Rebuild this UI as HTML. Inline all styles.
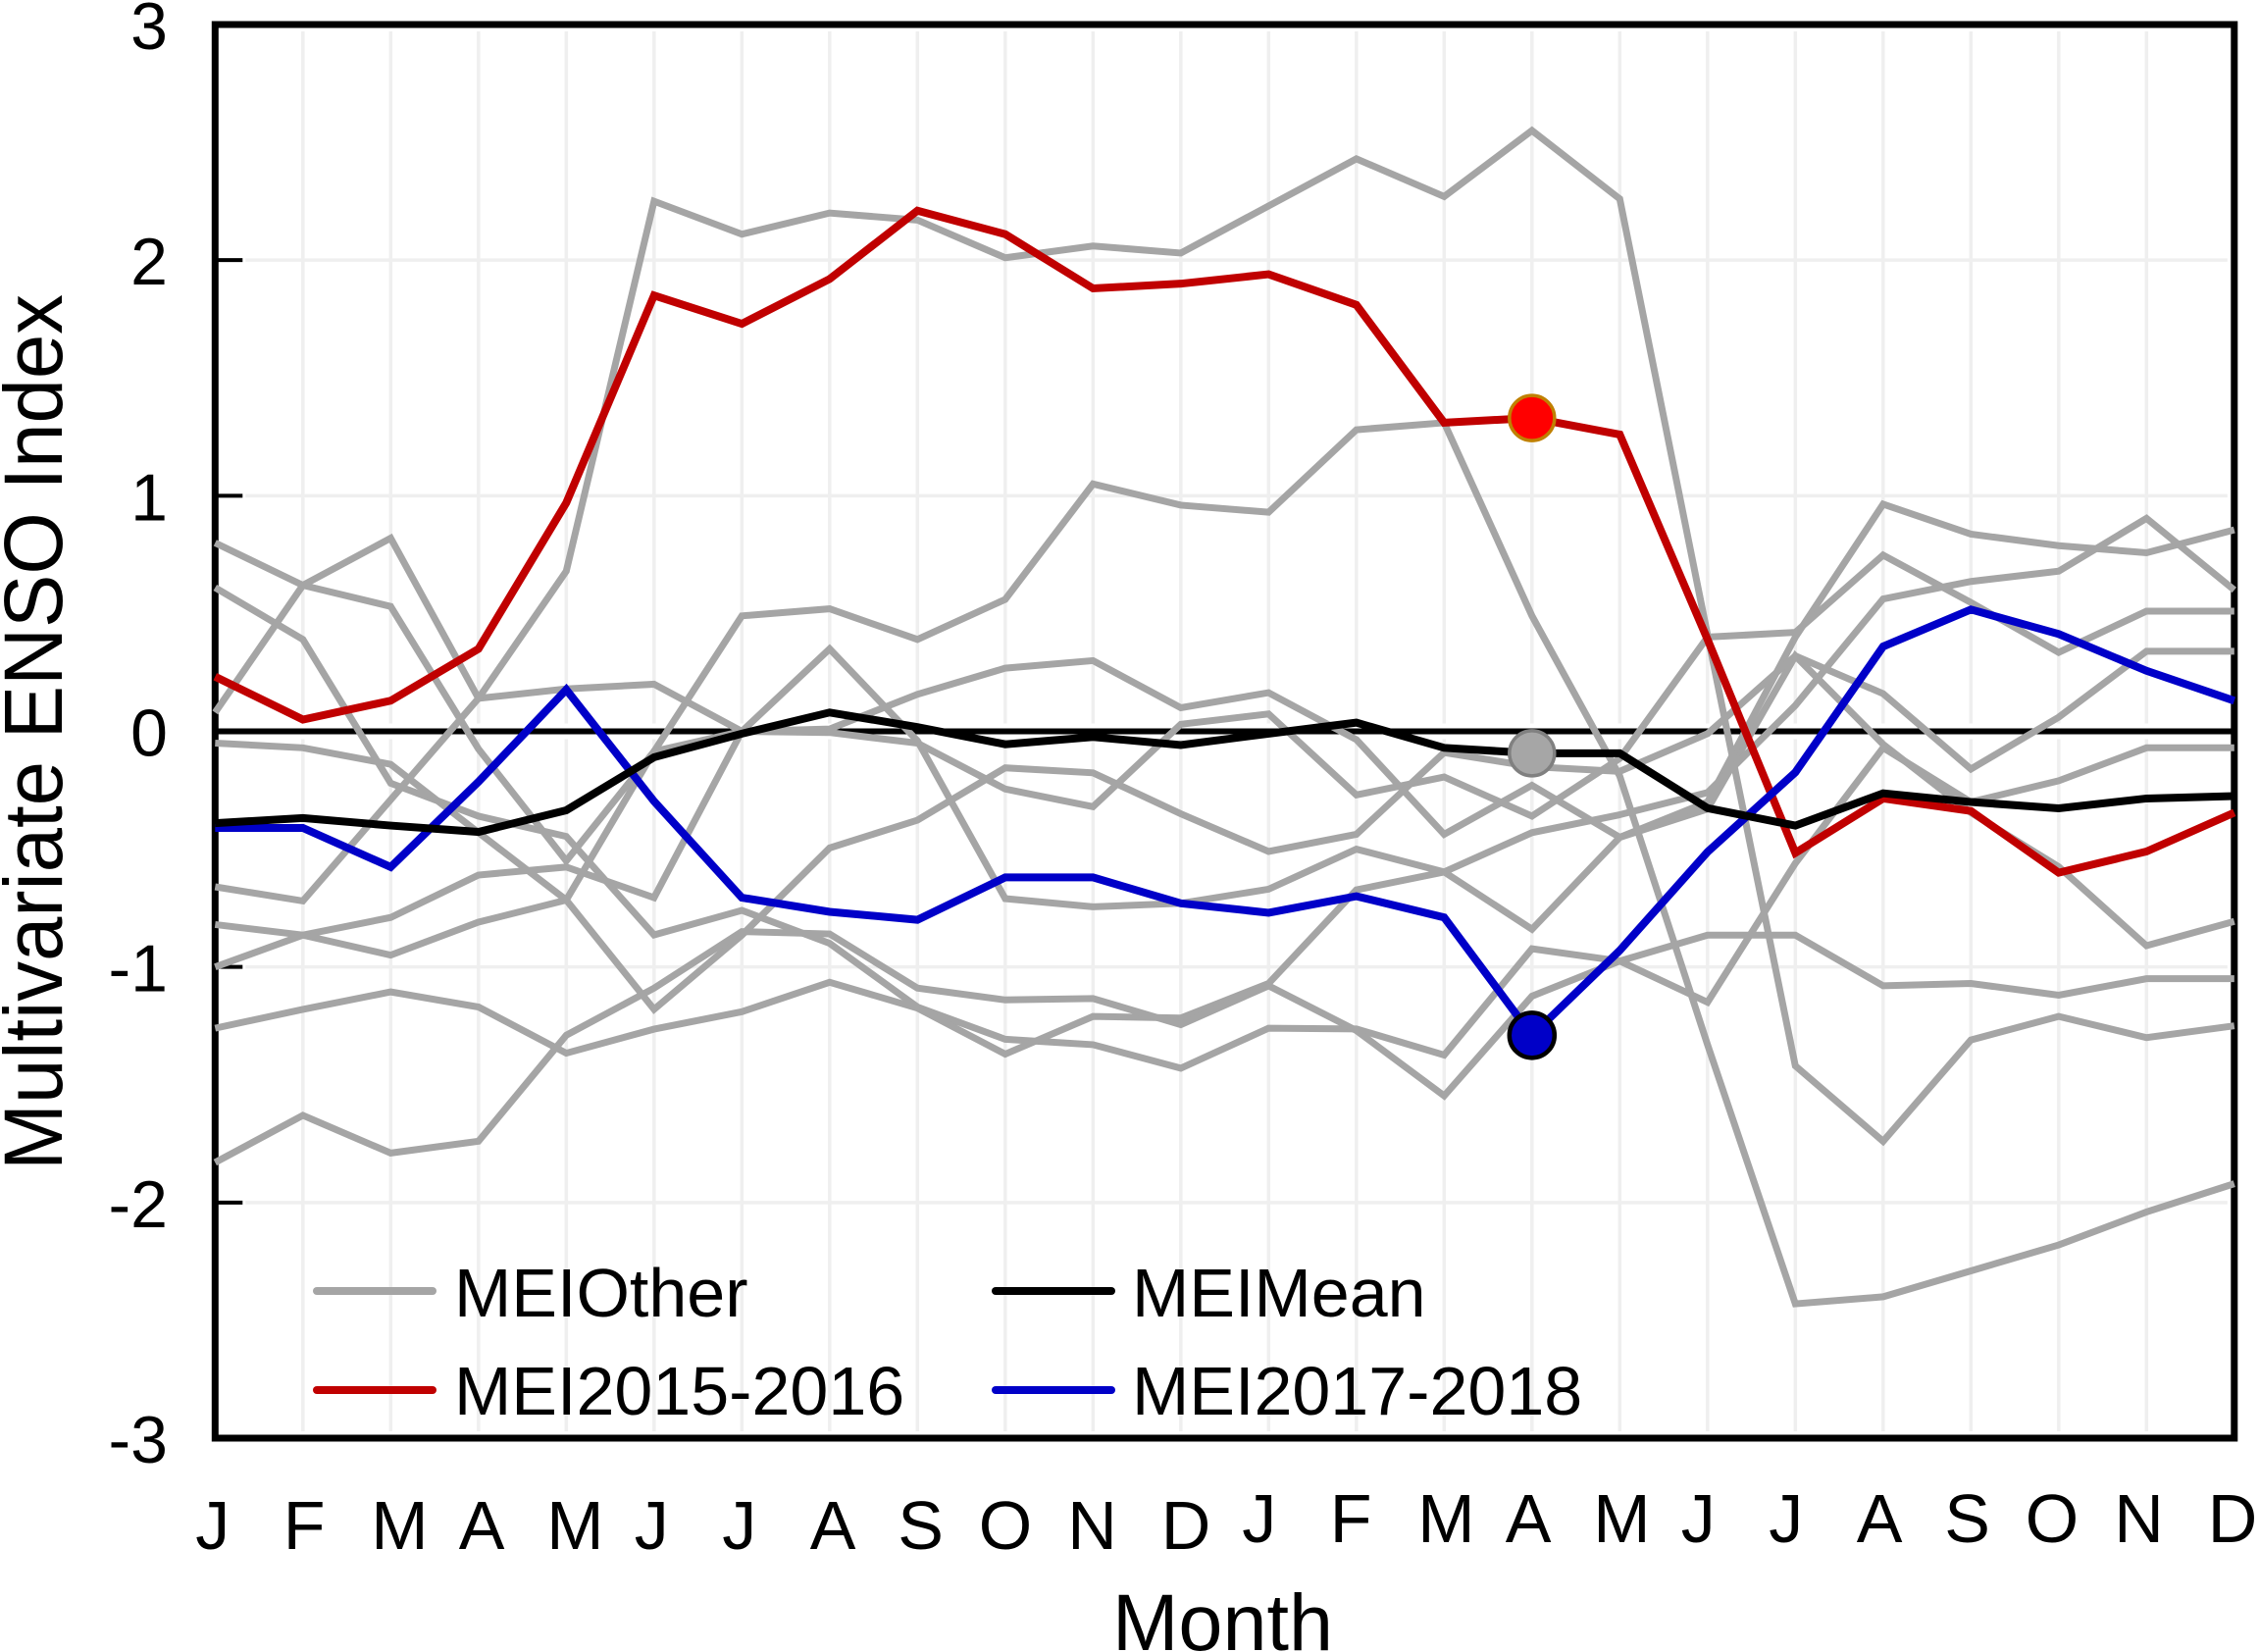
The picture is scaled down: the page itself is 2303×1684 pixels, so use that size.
<!DOCTYPE html>
<html lang="en">
<head>
<meta charset="utf-8">
<title>Multivariate ENSO Index by Month</title>
<style>
html,body{margin:0;padding:0;background:#fff;width:2303px;height:1684px;overflow:hidden}
svg{display:block}
text{font-family:"Liberation Sans",Arial,sans-serif;fill:#000}
</style>
</head>
<body>
<svg id="chart" xmlns="http://www.w3.org/2000/svg" width="2303" height="1684" viewBox="0 0 2303 1684"></svg>
<script>
var months = ['J','F','M','A','M','J','J','A','S','O','N','D','J','F','M','A','M','J','J','A','S','O','N','D'];
var yTicks = [3,2,1,0,-1,-2,-3];
var other1 = [0.80,0.62,0.53,-0.075,-0.55,-0.085,0.49,0.52,0.39,0.56,1.05,0.96,0.93,1.28,1.31,0.49,-0.19,-1.33,-2.43,-2.40,-2.29,-2.18,-2.04,-1.92];
var other2 = [0.61,0.39,-0.22,-0.36,-0.446,-0.864,-0.76,-0.9,-1.17,-1.307,-1.33,-1.43,-1.26,-1.263,-1.374,-0.923,-0.975,-1.15,-0.56,-0.07,-0.30,-0.21,-0.07,-0.07];
var other3 = [0.08,0.62,0.82,0.14,0.18,0.2,0.0,0.01,0.157,0.268,0.30,0.10,0.164,-0.035,-0.437,-0.229,-0.45,-0.33,0.32,-0.055,-0.345,-0.575,-0.91,-0.807];
var other4 = [-0.05,-0.07,-0.14,-0.43,-0.716,-0.085,0.0,0.35,-0.04,-0.71,-0.745,-0.73,-0.67,-0.50,-0.597,-0.84,-0.45,-0.30,0.40,0.964,0.837,0.788,0.758,0.855];
var other5 = [-0.66,-0.72,-0.29,0.14,0.68,2.25,2.11,2.2,2.17,2.01,2.06,2.03,2.23,2.43,2.27,2.55,2.26,0.41,-1.42,-1.74,-1.31,-1.21,-1.30,-1.25];
var other6 = [-0.82,-0.865,-0.79,-0.61,-0.576,-0.706,0.0,-0.005,-0.05,-0.245,-0.32,0.03,0.074,-0.27,-0.194,-0.36,-0.115,0.40,0.42,0.748,0.547,0.335,0.51,0.51];
var other7 = [-1.0,-0.865,-0.95,-0.81,-0.716,-1.18,-0.865,-0.495,-0.377,-0.155,-0.176,-0.35,-0.51,-0.437,-0.09,-0.15,-0.17,-0.01,0.32,0.16,-0.16,0.06,0.34,0.34];
var other8 = [-1.26,-1.18,-1.106,-1.17,-1.366,-1.264,-1.19,-1.065,-1.175,-1.37,-1.21,-1.217,-1.07,-0.673,-0.597,-0.43,-0.354,-0.26,0.11,0.562,0.636,0.68,0.904,0.60];
var other9 = [-1.83,-1.63,-1.79,-1.74,-1.29,-1.09,-0.85,-0.86,-1.09,-1.14,-1.134,-1.245,-1.08,-1.27,-1.547,-1.124,-0.975,-0.865,-0.865,-1.08,-1.07,-1.12,-1.05,-1.05];
var mei20152016 = [0.232,0.05,0.13,0.35,0.97,1.85,1.73,1.92,2.21,2.11,1.88,1.90,1.94,1.81,1.31,1.33,1.26,0.39,-0.516,-0.285,-0.338,-0.60,-0.51,-0.345];
var mei20172018 = [-0.41,-0.41,-0.576,-0.214,0.177,-0.297,-0.706,-0.766,-0.80,-0.62,-0.62,-0.73,-0.77,-0.70,-0.79,-1.29,-0.93,-0.512,-0.174,0.36,0.517,0.413,0.257,0.13];
var meiMean = [-0.39,-0.368,-0.40,-0.427,-0.335,-0.11,-0.01,0.08,0.018,-0.055,-0.024,-0.058,-0.01,0.037,-0.07,-0.093,-0.093,-0.326,-0.40,-0.263,-0.30,-0.327,-0.285,-0.275];
var highlightMonth = 15;

var NS = 'http://www.w3.org/2000/svg';
var svg = document.getElementById('chart');
var plot = {left:219.3, right:2277.8, top:25, bottom:1466};
function xScale(i){ return plot.left + i * (plot.right - plot.left) / (months.length - 1); }
function yScale(v){ return plot.top + (3 - v) * (plot.bottom - plot.top) / 6; }
function make(tag, attrs, text){
  var el = document.createElementNS(NS, tag);
  for (var k in attrs) el.setAttribute(k, attrs[k]);
  if (text !== undefined) el.textContent = text;
  svg.appendChild(el);
  return el;
}
function pathFor(values){
  return values.map(function(v,i){ return (i ? 'L' : 'M') + xScale(i).toFixed(2) + ' ' + yScale(v).toFixed(2); }).join(' ');
}

/* grid */
months.forEach(function(m,i){
  if (i === 0 || i === months.length - 1) return;
  var g = make('line',{x1:xScale(i),x2:xScale(i),y1:plot.top+7,y2:plot.bottom-7,stroke:'#efefef','stroke-width':3.5});
  
  
});
yTicks.forEach(function(v){
  if (v === 3 || v === -3 || v === 0) return;
  var g = make('line',{x1:plot.left+31,x2:plot.right-7,y1:yScale(v),y2:yScale(v),stroke:'#efefef','stroke-width':3.5});
  
  
  var t = make('line',{x1:plot.left,x2:plot.left+28,y1:yScale(v),y2:yScale(v),stroke:'#000','stroke-width':4});
  
  
});

/* zero reference line */
var halo = make('line',{x1:plot.left,x2:plot.right,y1:yScale(0),y2:yScale(0),stroke:'#fff','stroke-width':16});


var zero = make('line',{x1:plot.left,x2:plot.right,y1:yScale(0),y2:yScale(0),stroke:'#000','stroke-width':6});



/* frame sits beneath the series */
var frame = make('rect',{x:plot.left,y:plot.top,width:plot.right-plot.left,height:plot.bottom-plot.top,fill:'none',stroke:'#000','stroke-width':7});



/* series */
[other1,other2,other3,other4,other5,other6,other7,other8,other9].forEach(function(s){
  var p = make('path',{d:pathFor(s),fill:'none',stroke:'#a5a5a5','stroke-width':7,'stroke-linejoin':'miter'});
  
  
});
var redLine = make('path',{d:pathFor(mei20152016),fill:'none',stroke:'#c00000','stroke-width':8,'stroke-linejoin':'miter'});


var blueLine = make('path',{d:pathFor(mei20172018),fill:'none',stroke:'#0000c8','stroke-width':8,'stroke-linejoin':'miter'});


var meanLine = make('path',{d:pathFor(meiMean),fill:'none',stroke:'#000','stroke-width':8,'stroke-linejoin':'miter'});



/* highlighted points */
var mx = xScale(highlightMonth);
var m1 = make('circle',{cx:mx,cy:yScale(mei20152016[highlightMonth]),r:23,fill:'#ff0000',stroke:'#c08000','stroke-width':3.5});


var m2 = make('circle',{cx:mx,cy:yScale(meiMean[highlightMonth]),r:23,fill:'#a6a6a6',stroke:'#808080','stroke-width':3.5});


var m3 = make('circle',{cx:mx,cy:yScale(mei20172018[highlightMonth]),r:23,fill:'#0000c8',stroke:'#000','stroke-width':4.5});



/* tick labels */
yTicks.forEach(function(v){
  var t = make('text',{x:171,y:yScale(v)+25,'text-anchor':'end','font-size':68}, String(v));
  
  
});
function labelNudge(letter){ return letter === 'O' ? -7 : (letter === 'N' ? -6 : 0); }
months.forEach(function(m,i){
  var first = i < 12;
  var t = make('text',{x:xScale(i)-(first?20:27)+labelNudge(m),y:first?1579:1572,'font-size':70}, m);
  
  
});

/* axis titles */
var yTitle = make('text',{transform:'translate(63 1193) rotate(-90)','font-size':84,textLength:893,lengthAdjust:'spacingAndGlyphs'}, 'Multivariate ENSO Index');


var xTitle = make('text',{x:1134,y:1682,'font-size':82,textLength:225,lengthAdjust:'spacingAndGlyphs'}, 'Month');



/* legend */
var s1 = make('line',{x1:323,x2:441,y1:1316,y2:1316,stroke:'#a5a5a5','stroke-width':8,'stroke-linecap':'round'});


var l1 = make('text',{x:463,y:1342,'font-size':70}, 'MEIOther');


var s2 = make('line',{x1:1015,x2:1133,y1:1316,y2:1316,stroke:'#000','stroke-width':8,'stroke-linecap':'round'});


var l2 = make('text',{x:1154,y:1342,'font-size':70}, 'MEIMean');


var s3 = make('line',{x1:323,x2:441,y1:1417,y2:1417,stroke:'#c00000','stroke-width':8,'stroke-linecap':'round'});


var l3 = make('text',{x:463,y:1442,'font-size':70}, 'MEI2015-2016');


var s4 = make('line',{x1:1015,x2:1133,y1:1417,y2:1417,stroke:'#0000c8','stroke-width':8,'stroke-linecap':'round'});


var l4 = make('text',{x:1154,y:1442,'font-size':70}, 'MEI2017-2018');


</script>
</body>
</html>
